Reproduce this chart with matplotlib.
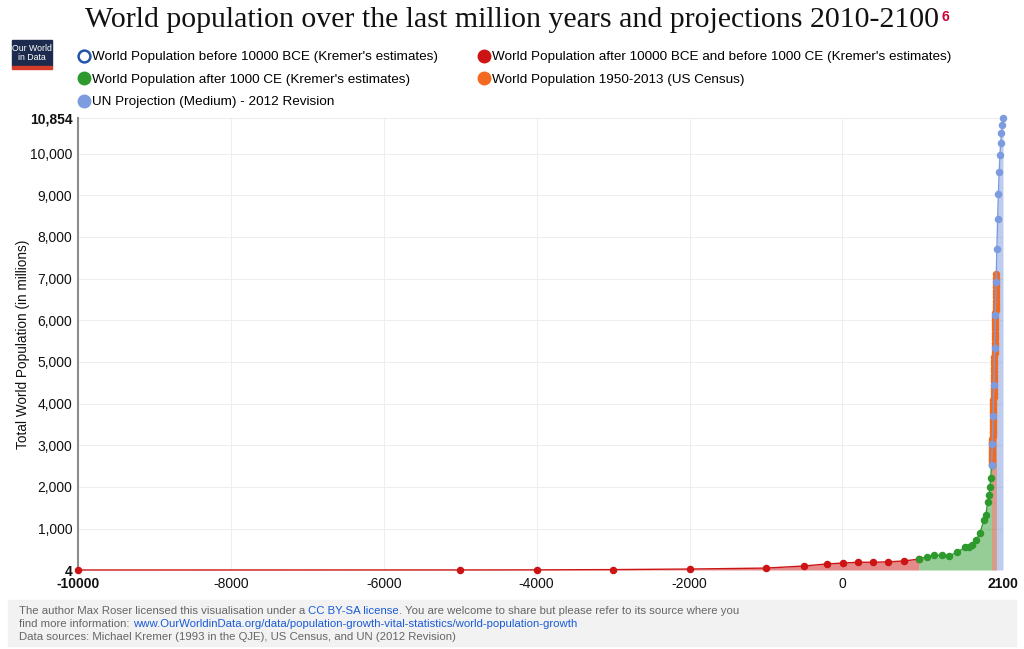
import matplotlib
matplotlib.use("Agg")
import matplotlib.pyplot as plt
from matplotlib.lines import Line2D
from matplotlib.patches import Rectangle

# ---------------- data ----------------
red_years = [-10000, -5000, -4000, -3000, -2000, -1000, -500, -200, 1, 200, 400, 600, 800, 1000]
red_pop = [4, 5, 7, 14, 27, 50, 100, 150, 170, 190, 190, 200, 220, 265]

green_years = [1000, 1100, 1200, 1300, 1400, 1500, 1600, 1650, 1700, 1750, 1800, 1850,
               1875, 1900, 1920, 1930, 1940, 1950]
green_pop = [265, 320, 360, 360, 350, 425, 545, 545, 610, 720, 900, 1200,
             1325, 1625, 1813, 1987, 2213, 2516]

orange_years = [1950, 1951, 1952, 1953, 1954, 1955, 1956, 1957, 1958, 1959,
                1960, 1961, 1962, 1963, 1964, 1965, 1966, 1967, 1968, 1969,
                1970, 1971, 1972, 1973, 1974, 1975, 1976, 1977, 1978, 1979,
                1980, 1981, 1982, 1983, 1984, 1985, 1986, 1987, 1988, 1989,
                1990, 1991, 1992, 1993, 1994, 1995, 1996, 1997, 1998, 1999,
                2000, 2001, 2002, 2003, 2004, 2005, 2006, 2007, 2008, 2009,
                2010, 2011, 2012, 2013]
orange_pop = [2558, 2595, 2637, 2682, 2730, 2782, 2835, 2891, 2948, 3001,
              3043, 3083, 3140, 3210, 3281, 3350, 3421, 3490, 3562, 3637,
              3713, 3790, 3867, 3942, 4017, 4089, 4160, 4231, 4304, 4378,
              4453, 4531, 4612, 4694, 4774, 4856, 4940, 5027, 5115, 5202,
              5289, 5372, 5456, 5538, 5619, 5699, 5779, 5859, 5936, 6013,
              6089, 6165, 6242, 6319, 6396, 6473, 6551, 6630, 6710, 6788,
              6866, 6944, 7022, 7101]

blue_years = [1950, 1960, 1970, 1980, 1990, 2000, 2010, 2020, 2030, 2040,
              2050, 2060, 2070, 2080, 2090, 2100]
blue_pop = [2526, 3026, 3691, 4449, 5321, 6128, 6916, 7717, 8425, 9039,
            9551, 9957, 10259, 10488, 10683, 10854]

pre_years = []
pre_pop = []

series_names = ["World Population before 10000 BCE (Kremer's estimates)",
                "World Population after 10000 BCE and before 1000 CE (Kremer's estimates)",
                "World Population after 1000 CE (Kremer's estimates)",
                "World Population 1950-2013 (US Census)",
                "UN Projection (Medium) - 2012 Revision"]

y_ticks = [4, 1000, 2000, 3000, 4000, 5000, 6000, 7000, 8000, 9000, 10000, 10854]
x_ticks = [-10000, -8000, -6000, -4000, -2000, 0, 2100]

# ---------------- style ----------------
plt.rcParams['font.family'] = ['Liberation Sans', 'DejaVu Sans']
C_PRE = '#2255aa'
C_RED = '#cc1414'
C_GREEN = '#2e9a2e'
C_ORANGE = '#f26a1f'
C_BLUE = '#7d9ce0'

fig = plt.figure(figsize=(10.24, 6.49), dpi=100)
ax = fig.add_axes([78/1024, 1 - 570/649, (1003-78)/1024, (570-118)/649])

ax.set_xlim(-10000, 2100)
ax.set_ylim(4, 10854)

# fills
ax.fill_between(blue_years, blue_pop, 4, color=C_BLUE, alpha=0.5, lw=0, zorder=1)
ax.fill_between(red_years, red_pop, 4, color=C_RED, alpha=0.5, lw=0, zorder=1)
ax.fill_between(green_years, green_pop, 4, color=C_GREEN, alpha=0.5, lw=0, zorder=1)
ax.fill_between(orange_years, orange_pop, 4, color=C_ORANGE, alpha=0.5, lw=0, zorder=1)

ms = 4.4
ax.plot(pre_years, pre_pop, 'o', mfc='white', mec=C_PRE, mew=1.5, ms=ms, label=series_names[0])
ax.plot(red_years, red_pop, '-o', color=C_RED, lw=1, ms=ms, zorder=3, label=series_names[1], clip_on=False)
ax.plot(green_years, green_pop, '-o', color=C_GREEN, lw=1, ms=ms, zorder=4, label=series_names[2], clip_on=False)
ax.plot(orange_years, orange_pop, '-o', color=C_ORANGE, lw=1, ms=ms, zorder=5, label=series_names[3], clip_on=False)
ax.plot(blue_years, blue_pop, '-o', color=C_BLUE, lw=1, ms=ms, zorder=6, label=series_names[4], clip_on=False)

# axes styling
for s in ['top', 'right', 'bottom']:
    ax.spines[s].set_visible(False)
ax.spines['left'].set_color('#8c8c8c')
ax.spines['left'].set_linewidth(1.5)
ax.set_yticks(y_ticks)
ax.set_yticklabels([f"{v:,}" for v in y_ticks])
ax.set_xticks(x_ticks)
ax.set_xticklabels([str(v) for v in x_ticks])
ax.tick_params(axis='both', length=0, labelsize=10, colors='#111111')
ax.tick_params(axis='y', pad=4)
ax.tick_params(axis='x', pad=5)
for lab in ax.get_yticklabels():
    if lab.get_text() in ('4', '10,854'):
        lab.set_fontweight('bold')
for lab in ax.get_xticklabels():
    if lab.get_text() in ('-10000', '2100'):
        lab.set_fontweight('bold')
ax.grid(True, color='#eeeeee', lw=0.8, zorder=0)
ax.set_axisbelow(True)
ax.set_ylabel("Total World Population (in millions)", fontsize=9.8, color='#111111', labelpad=0)

# title
title = fig.text(0.5, 1 - 20/649, "World population over the last million years and projections 2010-2100",
                 ha='center', va='center', fontsize=21.5, family=['Liberation Serif', 'DejaVu Serif'],
                 color='#111111')
fig.canvas.draw()
ax.annotate("6", xy=(1, 1), xycoords=title, xytext=(1.5, -2), textcoords='offset points',
            va='top', ha='left', fontsize=10, color='#cc0033', fontweight='bold',
            annotation_clip=False)

# logo
fig.add_artist(Rectangle((12/1024, 1 - 66/649), 40/1024, 26/649, transform=fig.transFigure,
                         color='#1c2b4d', zorder=5))
fig.add_artist(Rectangle((12/1024, 1 - 69/649), 40/1024, 3/649, transform=fig.transFigure,
                         color='#d63c2a', zorder=5))
fig.text(32/1024, 1 - 53/649, "Our World\nin Data", ha='center', va='center', color='white',
         fontsize=6.3, linespacing=0.95, zorder=6)

# legend (column-major order -> row-major appearance)
h_pre = Line2D([], [], ls='none', marker='o', mfc='white', mec=C_PRE, mew=1.8, ms=8.5)
h_red = Line2D([], [], ls='none', marker='o', color=C_RED, ms=9)
h_green = Line2D([], [], ls='none', marker='o', color=C_GREEN, ms=9)
h_orange = Line2D([], [], ls='none', marker='o', color=C_ORANGE, ms=9)
h_blue = Line2D([], [], ls='none', marker='o', color=C_BLUE, ms=9)
handles = [h_pre, h_green, h_blue, h_red, h_orange]
labels = [series_names[0], series_names[2], series_names[4], series_names[1], series_names[3]]
fig.legend(handles, labels, loc='upper left', bbox_to_anchor=(79/1024, 1 - 51/649),
           ncol=2, frameon=False, fontsize=9.7, handlelength=0.7, handletextpad=0.25,
           columnspacing=3.1, labelspacing=0.75, borderaxespad=0, borderpad=0)

# footer
fig.add_artist(Rectangle((8/1024, 1 - 646/649), 1008/1024, 46/649, transform=fig.transFigure,
                         color='#f2f2f2', zorder=0))
fs = 8.2
grey = '#666666'
link = '#1a5bd6'
t1 = fig.text(19/1024, 1 - 611/649, "The author Max Roser licensed this visualisation under a ",
              fontsize=fs, color=grey, va='center')
t2 = ax.annotate("CC BY-SA license", xy=(1, 0), xycoords=t1, va='bottom', ha='left',
                 fontsize=fs, color=link, annotation_clip=False)
ax.annotate(". You are welcome to share but please refer to its source where you", xy=(1, 0),
            xycoords=t2, va='bottom', ha='left', fontsize=fs, color=grey, annotation_clip=False)
t4 = fig.text(19/1024, 1 - 624/649, "find more information: ", fontsize=fs, color=grey, va='center')
ax.annotate("www.OurWorldinData.org/data/population-growth-vital-statistics/world-population-growth",
            xy=(1, 0), xycoords=t4, va='bottom', ha='left', fontsize=fs, color=link,
            annotation_clip=False)
fig.text(19/1024, 1 - 637/649, "Data sources: Michael Kremer (1993 in the QJE), US Census, and UN (2012 Revision)",
         fontsize=fs, color=grey, va='center')

fig.savefig("out.png", dpi=100)
